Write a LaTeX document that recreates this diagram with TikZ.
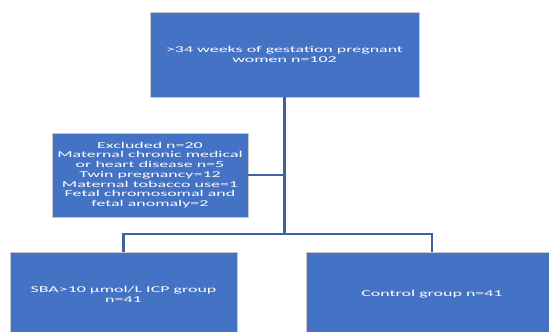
\documentclass[tikz,border=0pt]{standalone}
\usepackage{fontspec}
\setmainfont{Carlito}[FakeStretch=2.0]
\usepackage{tikz}
\usetikzlibrary{calc}
\definecolor{boxblue}{RGB}{68,114,196}
\definecolor{linkblue}{RGB}{64,98,158}
\definecolor{edgegray}{RGB}{200,200,200}
\tikzset{box/.style={shape=rectangle, draw=edgegray, line width=0.8bp, fill=boxblue,
    text=white, align=center, inner sep=0pt,
    font=\fontsize{9}{9.8}\selectfont}}
\tikzset{link/.style={draw=linkblue, line width=2.4bp}}

\begin{document}
\begin{tikzpicture}[x=1bp, y=-1bp]
    \useasboundingbox (0,0) rectangle (549,331);
    \clip (0,0) rectangle (549,331);

    \node[box, minimum width=269bp, minimum height=85bp] (top) at (284.5,54.5)
        {>34 weeks of gestation pregnant\\women n=102};
    \node[box, minimum width=196bp, minimum height=84bp] (excl) at (150,175)
        {Excluded n=20\\Maternal chronic medical\\or heart disease n=5\\Twin pregnancy=12\\Maternal tobacco use=1\\Fetal chromosomal and\\fetal anomaly=2};
    \node[box, minimum width=227bp, minimum height=84bp] (icp) at (123.5,294)
        {SBA>10 µmol/L ICP group\\n=41};
    \node[box, minimum width=252bp, minimum height=84bp] (ctrl) at (432,294)
        {Control group n=41};

    \coordinate (split) at (top.south |- 0,234);

    \draw[link] (top.south) -- (split);
    \draw[link] (excl.east) -- (excl.east -| top.south);
    \draw[link] (split) -| (icp.north);
    \draw[link] (split) -| (ctrl.north);

\end{tikzpicture}
\end{document}
